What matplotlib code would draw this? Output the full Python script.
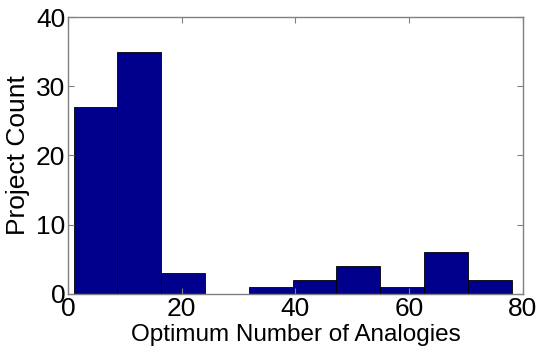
import matplotlib
matplotlib.use("Agg")
import matplotlib.pyplot as plt
import numpy as np

bin_edges = [1.0, 8.7, 16.4, 24.1, 31.8, 39.5, 47.2, 54.9, 62.6, 70.3, 78.0]
counts = [27, 35, 3, 0, 1, 2, 4, 1, 6, 2]
xticks = [0, 20, 40, 60, 80]
yticks = [0, 10, 20, 30, 40]

plt.rcParams['font.family'] = ['Liberation Sans', 'DejaVu Sans']

fig = plt.figure(figsize=(5.38, 3.58), dpi=100)
ax = fig.add_axes([0.1264, 0.1788, 0.972 - 0.1264, 0.9525 - 0.1788])

left = np.array(bin_edges[:-1])
widths = np.diff(bin_edges)
ax.bar(left, counts, width=widths, align='edge', color='#00008C',
       edgecolor='black', linewidth=0.6)

ax.set_xlim(0, 80)
ax.set_ylim(0, 40)
ax.set_xticks(xticks)
ax.set_yticks(yticks)
ax.tick_params(direction='in', length=4, color='#808080', labelsize=19,
               top=True, right=True, pad=2)
for s in ax.spines.values():
    s.set_color('#808080')
    s.set_linewidth(1.0)
ax.set_xlabel('Optimum Number of Analogies', fontsize=17.5, labelpad=2)
ax.set_ylabel('Project Count', fontsize=19, labelpad=4)

fig.savefig('out.png', dpi=100)
